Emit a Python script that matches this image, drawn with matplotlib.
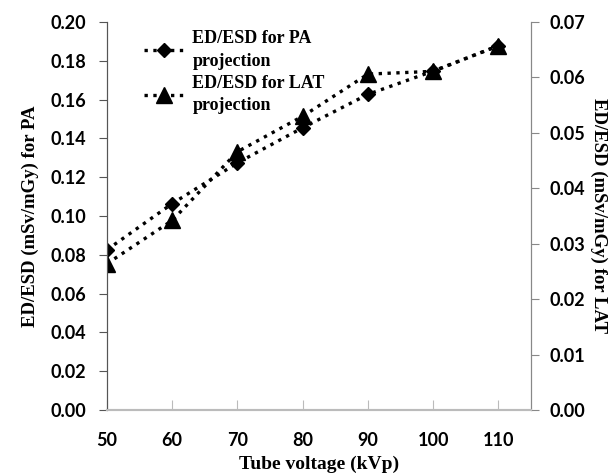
import matplotlib
matplotlib.use("Agg")
import matplotlib.pyplot as plt

kvp = [50, 60, 70, 80, 90, 100, 110]
pa_ratio = [0.0826, 0.1064, 0.1274, 0.1455, 0.1627, 0.1747, 0.1878]
lat_ratio = [0.0264, 0.0342, 0.0466, 0.0530, 0.0606, 0.0611, 0.0657]
left_ticks = [0.00, 0.02, 0.04, 0.06, 0.08, 0.10, 0.12, 0.14, 0.16, 0.18, 0.20]
right_ticks = [0.00, 0.01, 0.02, 0.03, 0.04, 0.05, 0.06, 0.07]

tick_font = {"family": "Lato", "weight": "bold", "size": 13}
serif = "Liberation Serif"

fig = plt.figure(figsize=(6.13, 4.74), dpi=100)
ax = fig.add_axes([107/613, 1-410/474, (531-107)/613, (410-22)/474])
ax2 = ax.twinx()

l1, = ax.plot(kvp, pa_ratio, linestyle=":", color="black", linewidth=2.4,
              marker="D", markersize=7, label="ED/ESD for PA\nprojection")
l2, = ax2.plot(kvp, lat_ratio, linestyle=":", color="black", linewidth=2.4,
               marker="^", markersize=11.5, label="ED/ESD for LAT\nprojection")

ax.set_xlim(50, 115)
ax.set_ylim(0, 0.20)
ax2.set_ylim(0, 0.07)
ax.set_xticks(kvp)
ax.set_yticks(left_ticks)
ax2.set_yticks(right_ticks)
ax.set_xticklabels([str(v) for v in kvp], fontdict=tick_font)
ax.set_yticklabels([f"{v:.2f}" for v in left_ticks], fontdict=tick_font)
ax2.set_yticklabels([f"{v:.2f}" for v in right_ticks], fontdict=tick_font)

ax.tick_params(axis="x", direction="in", length=7, color="#bbbbbb", pad=16)
ax.tick_params(axis="y", direction="out", length=6, color="#555555", pad=9)
ax2.tick_params(axis="y", direction="out", length=6, color="#888888", pad=7)

for a in (ax, ax2):
    a.spines["top"].set_visible(False)
    a.spines["bottom"].set_color("#bbbbbb")
    a.spines["left"].set_color("#555555")
    a.spines["right"].set_color("#888888")
    a.spines["bottom"].set_linewidth(1.5)

ax.set_xlabel("Tube voltage (kVp)", fontfamily=serif, fontweight="bold", fontsize=14, labelpad=5)
ax.set_ylabel("ED/ESD (mSv/mGy) for PA", fontfamily=serif, fontweight="bold", fontsize=13.5, labelpad=8)
ax2.set_ylabel("ED/ESD (mSv/mGy) for LAT", fontfamily=serif, fontweight="bold", fontsize=13.5,
               rotation=-90, labelpad=16)

leg = ax.legend(handles=[l1, l2], loc="upper left", bbox_to_anchor=(0.05, 1.02),
                frameon=False, prop={"family": serif, "weight": "bold", "size": 13},
                handlelength=2.2, handletextpad=0.45, labelspacing=0.3)
for t in leg.get_texts():
    t.set_linespacing(1.4)

fig.savefig("out.png", dpi=100)
